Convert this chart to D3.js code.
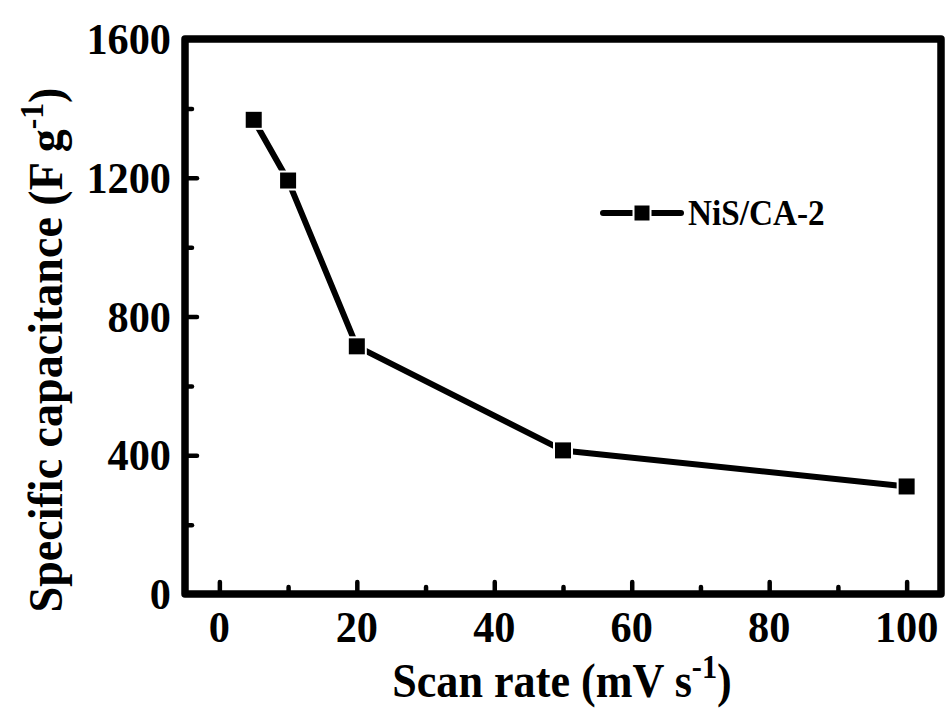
<!DOCTYPE html>
<html>
<head>
<meta charset="utf-8">
<script src="https://cdn.jsdelivr.net/npm/d3@7"></script>
<style>
  html, body { margin: 0; padding: 0; background: #fff; }
  svg { display: block; }
  text { font-family: "Liberation Serif", "Times New Roman", serif; font-weight: bold; fill: #000; }
</style>
</head>
<body>
<svg id="chart" width="946" height="711"></svg>
<script>
// ---- data ----
const scanRates = [5, 10, 20, 50, 100];
const capacitance = [1367, 1192, 714, 414, 310];
const seriesName = "NiS/CA-2";
const xTicks = [0, 20, 40, 60, 80, 100];
const xMinorTicks = [10, 30, 50, 70, 90];
const yTicks = [0, 400, 800, 1200, 1600];
const yMinorTicks = [200, 600, 1000, 1400];

// ---- layout ----
const L = 185, R = 941, T = 39, B = 594;
const svg = d3.select("#chart");

const x = d3.scaleLinear().domain([-5, 105]).range([L, R]);
const y = d3.scaleLinear().domain([0, 1600]).range([B, T]);

const majLen = 12, minLen = 7, tickW = 4.5;

const bottomMajor = d3.axisBottom(x).tickValues(xTicks).tickSize(-majLen).tickFormat("");
const bottomMinor = d3.axisBottom(x).tickValues(xMinorTicks).tickSize(-minLen).tickFormat("");
const leftMajor = d3.axisLeft(y).tickValues(yTicks).tickSize(-majLen).tickFormat("");
const leftMinor = d3.axisLeft(y).tickValues(yMinorTicks).tickSize(-minLen).tickFormat("");
const topTicks = d3.axisTop(x).tickValues(xTicks.concat(xMinorTicks)).tickSize(2).tickFormat("");
const rightTicks = d3.axisRight(y).tickValues(yTicks.concat(yMinorTicks)).tickSize(2).tickFormat("");

function styleAxis(w) {
  return g => {
    g.select(".domain").remove();
    g.selectAll(".tick line").attr("stroke", "#000").attr("stroke-width", w).attr("stroke-linecap", "round");
  };
}
svg.append("g").attr("transform", `translate(0,${B})`).call(bottomMajor).call(styleAxis(tickW));
svg.append("g").attr("transform", `translate(0,${B})`).call(bottomMinor).call(styleAxis(tickW));
svg.append("g").attr("transform", `translate(${L},0)`).call(leftMajor).call(styleAxis(tickW));
svg.append("g").attr("transform", `translate(${L},0)`).call(leftMinor).call(styleAxis(tickW));
svg.append("g").attr("transform", `translate(0,${T})`).call(topTicks).call(styleAxis(2));
svg.append("g").attr("transform", `translate(${R},0)`).call(rightTicks).call(styleAxis(2));

// frame
svg.append("rect").attr("x", L).attr("y", T).attr("width", R - L).attr("height", B - T)
  .attr("fill", "none").attr("stroke", "#000").attr("stroke-width", 7.5).attr("stroke-linejoin", "round");

// tick labels
svg.append("g").selectAll("text").data(xTicks).join("text")
  .attr("transform", d => `translate(${x(d)},642) scale(0.94,1)`).attr("text-anchor", "middle")
  .style("font-size", "45px").text(d => d);
svg.append("g").selectAll("text").data(yTicks).join("text")
  .attr("transform", d => `translate(171,${y(d) + 15}) scale(0.94,1)`).attr("text-anchor", "end")
  .style("font-size", "45px").text(d => d);

// axis titles
const xt = svg.append("text").attr("transform", `translate(${(L + R) / 2 - 1},697) scale(0.92,1)`)
  .attr("text-anchor", "middle").style("font-size", "48px");
xt.append("tspan").text("Scan rate (mV s");
xt.append("tspan").attr("dy", -19).style("font-size", "33px").text("-1");
xt.append("tspan").attr("dy", 19).text(")");

const yt = svg.append("text").attr("transform", "translate(62,350) rotate(-90) scale(0.96,1)")
  .attr("text-anchor", "middle").style("font-size", "48px");
yt.append("tspan").text("Specific capacitance (F g");
yt.append("tspan").attr("dy", -19).style("font-size", "33px").text("-1");
yt.append("tspan").attr("dy", 19).text(")");

// data line
const pts = scanRates.map((d, i) => [d, capacitance[i]]);
svg.append("path").datum(pts)
  .attr("d", d3.line().x(d => x(d[0])).y(d => y(d[1])))
  .attr("fill", "none").attr("stroke", "#000").attr("stroke-width", 6)
  .attr("stroke-linecap", "round").attr("stroke-linejoin", "round");

const ms = 16;
svg.append("g").selectAll("rect").data(pts).join("rect")
  .attr("x", d => x(d[0]) - ms / 2).attr("y", d => y(d[1]) - ms / 2)
  .attr("width", ms).attr("height", ms)
  .attr("fill", "#000").attr("stroke", "#fff").attr("stroke-width", 4).attr("paint-order", "stroke");

// legend
const lg = svg.append("g");
lg.append("line").attr("x1", 603).attr("x2", 681).attr("y1", 213).attr("y2", 213)
  .attr("stroke", "#000").attr("stroke-width", 6).attr("stroke-linecap", "round");
lg.append("rect").attr("x", 642 - 7.5).attr("y", 213 - 7.5).attr("width", 15).attr("height", 15)
  .attr("fill", "#000").attr("stroke", "#fff").attr("stroke-width", 4).attr("paint-order", "stroke");
lg.append("text").attr("transform", "translate(688,225) scale(0.95,1)").style("font-size", "35px").text(seriesName);
</script>
</body>
</html>
